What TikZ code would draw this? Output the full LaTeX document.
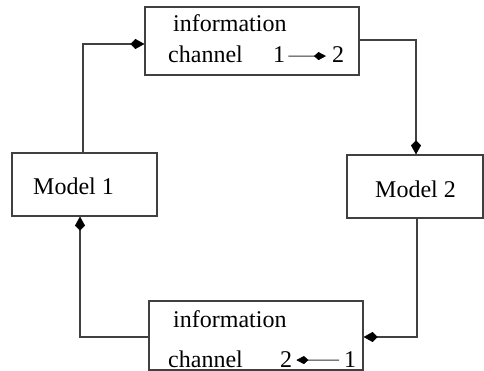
\documentclass[tikz,border=0pt]{standalone}
\usepackage{fontspec}
\setmainfont{Liberation Serif}
\usetikzlibrary{arrows.meta}
\begin{document}
\begin{tikzpicture}[x=1pt,y=-1pt,
  box/.style={draw=black!75,line width=1.2pt,rectangle,inner sep=0pt},
  txt/.style={anchor=base west,inner sep=0pt,font=\fontsize{24}{28}\selectfont},
  conn/.style={draw=black!75,line width=1.2pt,-{Kite[length=14pt,width=10pt,inset=5pt,color=black,line width=0.5pt]}},
  small/.style={draw=black!80,line width=1.1pt,-{Kite[length=12pt,width=8pt,inset=4.5pt,color=black,line width=0.5pt]}}]
\useasboundingbox (0,0) rectangle (484,371);
% boxes
\node[box,minimum width=214pt,minimum height=68pt] (top) at (252,41) {};
\node[box,minimum width=145pt,minimum height=63pt] (m1) at (84.5,184.5) {};
\node[box,minimum width=136pt,minimum height=63pt] (m2) at (415,186.5) {};
\node[box,minimum width=214pt,minimum height=69pt] (bot) at (256,335.5) {};
% texts
\node[txt] (ti) at (173,32) {information};
\node[txt] (tc) at (168,63) {channel};
\node[txt] (ta) at (273,63) {1};
\node[txt] (tb) at (332,63) {2};
\node[txt] (ml1) at (33,195) {Model 1};
\node[txt] (ml2) at (375,198) {Model 2};
\node[txt] (bi) at (173,327) {information};
\node[txt] (bc) at (168,367) {channel};
\node[txt] (bb) at (280,367) {2};
\node[txt] (ba) at (344,367) {1};
\draw[small,shorten <=3pt,shorten >=6pt] ([yshift=-1pt]ta.east) -- ([yshift=-1pt]tb.west);
\draw[small,shorten <=5pt,shorten >=4pt] ([yshift=-1pt]ba.west) -- ([yshift=-1pt]bb.east);
% connectors
\coordinate (k1) at (83,44);
\coordinate (k2) at (416,40);
\coordinate (k3) at (417,337);
\coordinate (k4) at (80,337);
\draw[conn] (m1.north -| k1) -- (k1) -- (top.west |- k1);
\draw[conn] (top.east |- k2) -- (k2) -- (m2.north -| k2);
\draw[conn] (m2.south -| k3) -- (k3) -- (bot.east |- k3);
\draw[conn] (bot.west |- k4) -- (k4) -- (m1.south -| k4);
\end{tikzpicture}
\end{document}
